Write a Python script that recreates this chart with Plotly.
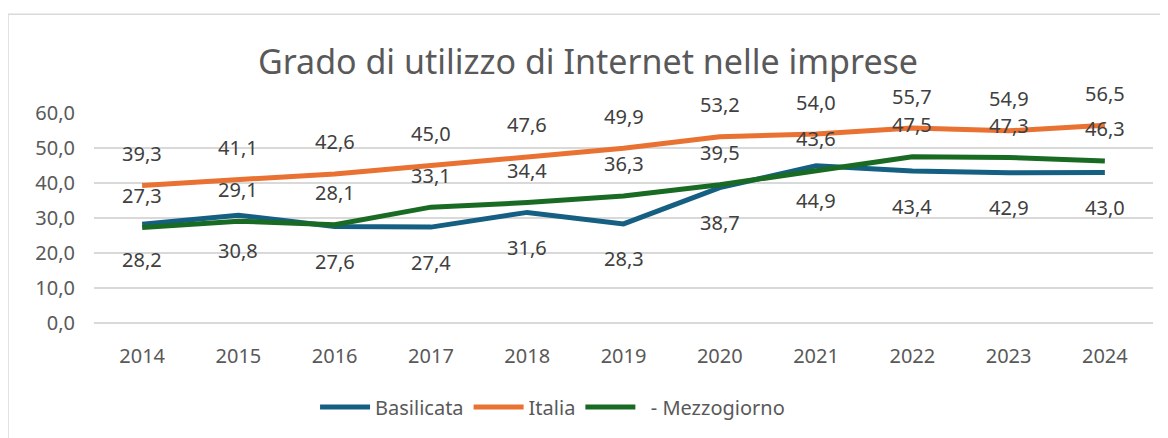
import plotly.graph_objects as go

years = [2014, 2015, 2016, 2017, 2018, 2019, 2020, 2021, 2022, 2023, 2024]
basilicata = [28.2, 30.8, 27.6, 27.4, 31.6, 28.3, 38.7, 44.9, 43.4, 42.9, 43.0]
italia = [39.3, 41.1, 42.6, 45.0, 47.6, 49.9, 53.2, 54.0, 55.7, 54.9, 56.5]
mezzogiorno = [27.3, 29.1, 28.1, 33.1, 34.4, 36.3, 39.5, 43.6, 47.5, 47.3, 46.3]

FONT = "Noto Sans"

# name, values, colour, label shift (px, + is up)
series = [
    ("Basilicata", basilicata, "#156082", -35),
    ("Italia", italia, "#E97132", 32),
    ("\u00a0\u00a0- Mezzogiorno", mezzogiorno, "#196B24", 32),
]

fig = go.Figure()
for name, vals, color, shift in series:
    fig.add_trace(go.Scatter(
        x=years, y=vals, name=name, mode="lines",
        line=dict(color=color, width=5),
    ))
    for x, v in zip(years, vals):
        fig.add_annotation(
            x=x, y=v, xref="x", yref="y", yshift=shift, showarrow=False,
            text=f"{v:.1f}".replace(".", ","),
            font=dict(family=FONT, size=20, color="#404040"),
        )

# page body has an 8px margin, so the figure is 8px smaller than the window
fig.update_layout(
    width=1160, height=430,
    margin=dict(l=86, r=15, t=105, b=115),
    paper_bgcolor="white", plot_bgcolor="white",
    separators=",.",
    title=dict(
        text="Grado di utilizzo di Internet nelle imprese",
        x=0.5, xanchor="center", y=0.875, yanchor="middle",
        font=dict(family=FONT, size=34, color="#595959"),
    ),
    showlegend=True,
    legend=dict(
        orientation="h", x=0.433, xanchor="center", y=-0.40, yanchor="middle",
        font=dict(family=FONT, size=20, color="#595959"),
        itemwidth=50, tracegroupgap=0,
    ),
    shapes=[dict(
        type="rect", xref="paper", yref="paper",
        x0=-0.0812, x1=1.2, y0=-1.0, y1=1.47,
        line=dict(color="#d9d9d9", width=1.5), layer="below",
    )],
)

fig.update_xaxes(
    range=[years[0] - 0.5, years[-1] + 0.5], dtick=1, tickformat="d",
    showgrid=False, showline=False, zeroline=False, ticks="",
    ticklabelstandoff=19,
    tickfont=dict(family=FONT, size=20, color="#595959"),
)
fig.update_yaxes(
    range=[0, 60], dtick=10, tickformat=".1f",
    showgrid=True, gridcolor="#d9d9d9", gridwidth=1.5,
    zeroline=True, zerolinecolor="#d9d9d9", zerolinewidth=1.5,
    showline=False, ticks="",
    ticklabelstandoff=18,
    tickfont=dict(family=FONT, size=20, color="#595959"),
)

fig.write_html("out.html")
